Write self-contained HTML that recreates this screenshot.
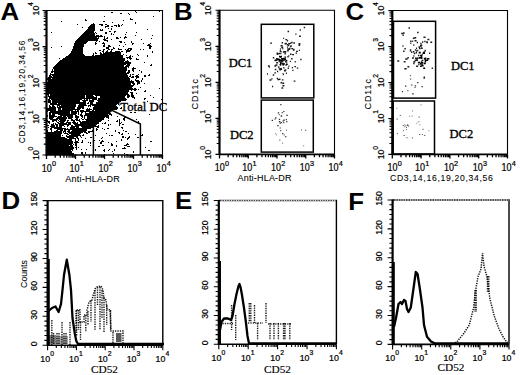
<!DOCTYPE html>
<html><head><meta charset="utf-8"><style>
html,body{margin:0;padding:0;background:#fff;width:520px;height:375px;overflow:hidden}
svg{display:block}
</style></head><body>
<svg width="520" height="375" viewBox="0 0 520 375">
<rect width="520" height="375" fill="#fff"/>
<text transform="translate(0.5,20) scale(1.1,1)" font-family='"Liberation Sans", sans-serif' font-weight="bold" font-size="23.5">A</text>
<text transform="translate(174,20) scale(1.1,1)" font-family='"Liberation Sans", sans-serif' font-weight="bold" font-size="23.5">B</text>
<text transform="translate(345.5,20) scale(1.1,1)" font-family='"Liberation Sans", sans-serif' font-weight="bold" font-size="23.5">C</text>
<text transform="translate(1.5,209) scale(1.1,1)" font-family='"Liberation Sans", sans-serif' font-weight="bold" font-size="23.5">D</text>
<text transform="translate(175,209) scale(1.1,1)" font-family='"Liberation Sans", sans-serif' font-weight="bold" font-size="23.5">E</text>
<text transform="translate(348.3,209.5) scale(1.1,1)" font-family='"Liberation Sans", sans-serif' font-weight="bold" font-size="23.5">F</text>
<path d="M135 11.5h1 M159 11.5h1 M111 12.5h2 M136 12.5h1 M120 13.5h2 M128 13.5h1 M129 14.5h1 M104 16.5h1 M153 16.5h1 M130 18.5h1 M85 19.5h1 M130 19.5h3 M85 20.5h2 M123 20.5h1 M61 21.5h1 M103 21.5h2 M112 22.5h1 M135 22.5h1 M93 23.5h1 M135 23.5h1 M77 24.5h1 M91 24.5h4 M99 24.5h4 M105 24.5h2 M118 24.5h1 M122 24.5h1 M90 25.5h5 M101 25.5h2 M107 25.5h2 M114 25.5h3 M118 25.5h2 M121 25.5h1 M89 26.5h6 M105 26.5h4 M111 26.5h2 M116 26.5h1 M118 26.5h2 M82 27.5h1 M88 27.5h7 M105 27.5h1 M88 28.5h7 M108 28.5h1 M111 28.5h1 M87 29.5h8 M100 29.5h1 M102 29.5h1 M111 29.5h1 M147 29.5h1 M86 30.5h9 M100 30.5h3 M85 31.5h9 M109 31.5h2 M114 31.5h2 M51 32.5h1 M84 32.5h10 M95 32.5h1 M105 32.5h2 M114 32.5h1 M126 32.5h1 M136 32.5h1 M83 33.5h12 M96 33.5h1 M105 33.5h2 M111 33.5h1 M82 34.5h13 M111 34.5h1 M113 34.5h1 M125 34.5h1 M81 35.5h14 M96 35.5h3 M100 35.5h2 M135 35.5h1 M152 35.5h1 M80 36.5h23 M104 36.5h1 M125 36.5h1 M79 37.5h18 M98 37.5h1 M104 37.5h1 M107 37.5h1 M116 37.5h2 M120 37.5h1 M124 37.5h3 M78 38.5h21 M104 38.5h1 M106 38.5h2 M116 38.5h3 M124 38.5h1 M151 38.5h1 M77 39.5h21 M103 39.5h3 M111 39.5h1 M141 39.5h1 M76 40.5h22 M104 40.5h4 M75 41.5h13 M96 41.5h1 M99 41.5h1 M107 41.5h1 M119 41.5h3 M131 41.5h1 M75 42.5h12 M95 42.5h1 M103 42.5h1 M120 42.5h2 M124 42.5h1 M131 42.5h1 M74 43.5h12 M95 43.5h2 M102 43.5h3 M132 43.5h2 M143 43.5h1 M150 43.5h1 M74 44.5h10 M95 44.5h1 M104 44.5h1 M125 44.5h1 M132 44.5h1 M148 44.5h2 M74 45.5h10 M103 45.5h2 M108 45.5h2 M119 45.5h1 M147 45.5h4 M61 46.5h1 M73 46.5h11 M103 46.5h2 M108 46.5h3 M123 46.5h1 M149 46.5h3 M51 47.5h1 M73 47.5h10 M106 47.5h3 M113 47.5h1 M149 47.5h2 M73 48.5h10 M106 48.5h3 M113 48.5h2 M118 48.5h1 M128 48.5h4 M149 48.5h2 M72 49.5h11 M103 49.5h2 M108 49.5h2 M111 49.5h2 M118 49.5h4 M125 49.5h1 M127 49.5h2 M130 49.5h2 M140 49.5h1 M143 49.5h1 M72 50.5h11 M99 50.5h2 M103 50.5h1 M107 50.5h1 M111 50.5h1 M126 50.5h5 M71 51.5h12 M102 51.5h2 M106 51.5h2 M110 51.5h2 M115 51.5h5 M121 51.5h2 M126 51.5h4 M152 51.5h1 M71 52.5h12 M95 52.5h1 M100 52.5h1 M103 52.5h1 M105 52.5h16 M126 52.5h1 M152 52.5h1 M70 53.5h13 M93 53.5h1 M95 53.5h2 M100 53.5h2 M103 53.5h18 M69 54.5h15 M93 54.5h1 M100 54.5h21 M123 54.5h1 M137 54.5h1 M68 55.5h17 M92 55.5h2 M95 55.5h28 M126 55.5h1 M130 55.5h1 M138 55.5h1 M147 55.5h1 M66 56.5h57 M129 56.5h2 M132 56.5h1 M147 56.5h1 M65 57.5h58 M126 57.5h5 M59 58.5h1 M63 58.5h62 M127 58.5h1 M129 58.5h3 M136 58.5h1 M62 59.5h63 M130 59.5h1 M136 59.5h3 M60 60.5h65 M127 60.5h1 M59 61.5h65 M125 61.5h4 M58 62.5h73 M144 62.5h1 M57 63.5h74 M56 64.5h70 M127 64.5h3 M151 64.5h1 M55 65.5h69 M126 65.5h4 M150 65.5h2 M54 66.5h70 M125 66.5h4 M53 67.5h74 M128 67.5h1 M133 67.5h1 M53 68.5h74 M132 68.5h4 M52 69.5h1 M54 69.5h73 M132 69.5h2 M52 70.5h1 M54 70.5h73 M128 70.5h2 M132 70.5h2 M139 70.5h1 M51 71.5h75 M128 71.5h2 M133 71.5h1 M141 71.5h1 M51 72.5h2 M54 72.5h72 M127 72.5h3 M141 72.5h1 M50 73.5h1 M54 73.5h75 M50 74.5h77 M130 74.5h1 M132 74.5h2 M138 74.5h1 M149 74.5h1 M49 75.5h2 M52 75.5h76 M130 75.5h1 M136 75.5h2 M144 75.5h2 M148 75.5h2 M49 76.5h3 M53 76.5h75 M129 76.5h2 M132 76.5h2 M135 76.5h4 M144 76.5h2 M48 77.5h81 M131 77.5h3 M136 77.5h3 M47 78.5h4 M52 78.5h78 M136 78.5h1 M142 78.5h1 M47 79.5h83 M135 79.5h1 M142 79.5h1 M48 80.5h82 M131 80.5h1 M135 80.5h4 M141 80.5h1 M48 81.5h86 M136 81.5h4 M141 81.5h1 M47 82.5h87 M137 82.5h3 M47 83.5h84 M132 83.5h3 M137 83.5h3 M144 83.5h1 M47 84.5h84 M133 84.5h2 M137 84.5h1 M47 85.5h87 M47 86.5h86 M47 87.5h85 M140 87.5h1 M47 88.5h86 M134 88.5h2 M159 88.5h1 M47 89.5h90 M138 89.5h1 M47 90.5h82 M131 90.5h1 M134 90.5h2 M145 90.5h1 M47 91.5h82 M144 91.5h2 M47 92.5h81 M130 92.5h3 M47 93.5h81 M131 93.5h2 M136 93.5h1 M47 94.5h2 M50 94.5h79 M131 94.5h2 M48 95.5h1 M50 95.5h35 M86 95.5h7 M95 95.5h31 M127 95.5h3 M131 95.5h3 M150 95.5h1 M48 96.5h37 M86 96.5h8 M96 96.5h1 M100 96.5h25 M127 96.5h3 M131 96.5h3 M49 97.5h36 M86 97.5h11 M100 97.5h25 M127 97.5h2 M132 97.5h3 M153 97.5h1 M49 98.5h48 M98 98.5h28 M134 98.5h1 M144 98.5h2 M48 99.5h2 M51 99.5h31 M84 99.5h1 M86 99.5h2 M89 99.5h1 M92 99.5h5 M98 99.5h29 M144 99.5h1 M161 99.5h1 M48 100.5h3 M52 100.5h28 M82 100.5h6 M89 100.5h5 M97 100.5h29 M48 101.5h3 M52 101.5h28 M83 101.5h3 M89 101.5h5 M98 101.5h23 M147 101.5h1 M48 102.5h3 M52 102.5h34 M88 102.5h1 M90 102.5h3 M96 102.5h25 M50 103.5h7 M58 103.5h28 M87 103.5h2 M90 103.5h3 M96 103.5h25 M136 103.5h1 M50 104.5h26 M79 104.5h7 M90 104.5h27 M118 104.5h3 M49 105.5h1 M52 105.5h2 M57 105.5h3 M61 105.5h15 M78 105.5h9 M88 105.5h3 M92 105.5h24 M119 105.5h2 M49 106.5h2 M52 106.5h3 M57 106.5h1 M59 106.5h17 M78 106.5h6 M88 106.5h1 M90 106.5h1 M94 106.5h23 M49 107.5h7 M57 107.5h18 M77 107.5h7 M93 107.5h25 M121 107.5h1 M47 108.5h9 M58 108.5h3 M62 108.5h13 M77 108.5h4 M82 108.5h2 M87 108.5h1 M89 108.5h1 M93 108.5h25 M120 108.5h2 M47 109.5h9 M58 109.5h3 M62 109.5h18 M86 109.5h6 M93 109.5h24 M47 110.5h9 M58 110.5h15 M75 110.5h1 M77 110.5h2 M80 110.5h4 M86 110.5h4 M92 110.5h2 M95 110.5h17 M134 110.5h3 M47 111.5h1 M50 111.5h20 M71 111.5h8 M80 111.5h31 M49 112.5h21 M71 112.5h6 M78 112.5h1 M81 112.5h2 M85 112.5h1 M89 112.5h21 M130 112.5h2 M134 112.5h2 M49 113.5h2 M52 113.5h18 M71 113.5h6 M78 113.5h1 M81 113.5h1 M85 113.5h26 M49 114.5h2 M52 114.5h3 M58 114.5h18 M78 114.5h1 M80 114.5h2 M85 114.5h23 M109 114.5h3 M149 114.5h1 M47 115.5h1 M49 115.5h6 M60 115.5h13 M75 115.5h2 M80 115.5h3 M84 115.5h25 M111 115.5h1 M47 116.5h1 M49 116.5h8 M58 116.5h4 M63 116.5h3 M67 116.5h6 M75 116.5h4 M81 116.5h2 M84 116.5h1 M87 116.5h22 M117 116.5h1 M49 117.5h5 M57 117.5h10 M68 117.5h5 M75 117.5h4 M82 117.5h1 M84 117.5h1 M87 117.5h18 M106 117.5h3 M124 117.5h2 M49 118.5h4 M56 118.5h11 M68 118.5h4 M76 118.5h2 M81 118.5h1 M84 118.5h1 M87 118.5h17 M108 118.5h1 M123 118.5h2 M50 119.5h8 M59 119.5h7 M71 119.5h2 M75 119.5h3 M79 119.5h1 M82 119.5h2 M85 119.5h19 M119 119.5h1 M123 119.5h2 M136 119.5h1 M47 120.5h1 M52 120.5h5 M58 120.5h1 M60 120.5h6 M67 120.5h2 M71 120.5h4 M76 120.5h4 M86 120.5h16 M108 120.5h1 M117 120.5h1 M119 120.5h1 M124 120.5h1 M47 121.5h3 M52 121.5h2 M56 121.5h1 M59 121.5h6 M67 121.5h1 M73 121.5h2 M79 121.5h2 M82 121.5h19 M116 121.5h2 M119 121.5h1 M138 121.5h1 M48 122.5h2 M57 122.5h2 M60 122.5h4 M66 122.5h5 M72 122.5h4 M77 122.5h1 M80 122.5h19 M105 122.5h1 M119 122.5h1 M121 122.5h1 M138 122.5h1 M49 123.5h1 M53 123.5h1 M55 123.5h1 M58 123.5h9 M68 123.5h3 M73 123.5h5 M80 123.5h19 M102 123.5h1 M104 123.5h2 M119 123.5h2 M51 124.5h3 M55 124.5h3 M59 124.5h12 M74 124.5h23 M108 124.5h1 M110 124.5h1 M119 124.5h1 M122 124.5h2 M47 125.5h2 M51 125.5h4 M56 125.5h2 M59 125.5h5 M67 125.5h2 M71 125.5h2 M75 125.5h21 M98 125.5h1 M108 125.5h1 M119 125.5h1 M50 126.5h5 M56 126.5h2 M59 126.5h3 M64 126.5h1 M67 126.5h1 M71 126.5h8 M81 126.5h18 M48 127.5h1 M51 127.5h11 M70 127.5h5 M76 127.5h3 M82 127.5h12 M97 127.5h2 M121 127.5h2 M50 128.5h2 M54 128.5h12 M67 128.5h1 M70 128.5h21 M96 128.5h1 M102 128.5h1 M107 128.5h2 M122 128.5h1 M50 129.5h2 M57 129.5h6 M64 129.5h23 M96 129.5h2 M104 129.5h1 M140 129.5h1 M47 130.5h1 M51 130.5h1 M56 130.5h2 M60 130.5h3 M64 130.5h2 M68 130.5h2 M72 130.5h15 M92 130.5h2 M96 130.5h1 M115 130.5h1 M123 130.5h1 M47 131.5h1 M51 131.5h1 M54 131.5h8 M63 131.5h3 M67 131.5h3 M71 131.5h15 M88 131.5h5 M115 131.5h1 M125 131.5h2 M47 132.5h15 M63 132.5h1 M65 132.5h1 M68 132.5h15 M84 132.5h3 M88 132.5h2 M118 132.5h2 M140 132.5h1 M47 133.5h15 M64 133.5h4 M69 133.5h12 M86 133.5h2 M106 133.5h1 M119 133.5h1 M122 133.5h1 M128 133.5h1 M47 134.5h14 M67 134.5h2 M71 134.5h9 M83 134.5h1 M121 134.5h2 M135 134.5h1 M142 134.5h1 M47 135.5h14 M62 135.5h1 M66 135.5h1 M69 135.5h12 M82 135.5h2 M95 135.5h1 M109 135.5h1 M111 135.5h2 M141 135.5h2 M47 136.5h14 M66 136.5h12 M80 136.5h1 M122 136.5h2 M129 136.5h1 M47 137.5h18 M67 137.5h7 M76 137.5h2 M81 137.5h1 M90 137.5h2 M102 137.5h1 M122 137.5h2 M125 137.5h1 M128 137.5h2 M137 137.5h2 M47 138.5h20 M69 138.5h7 M77 138.5h2 M85 138.5h1 M101 138.5h1 M127 138.5h2 M47 139.5h25 M75 139.5h1 M78 139.5h1 M121 139.5h1 M127 139.5h1 M47 140.5h25 M75 140.5h1 M78 140.5h1 M82 140.5h1 M94 140.5h1 M99 140.5h1 M102 140.5h1 M121 140.5h1 M47 141.5h26 M75 141.5h3 M82 141.5h1 M101 141.5h3 M116 141.5h1 M150 141.5h2 M47 142.5h26 M74 142.5h5 M81 142.5h2 M88 142.5h1 M90 142.5h1 M100 142.5h2 M108 142.5h1 M47 143.5h26 M75 143.5h2 M90 143.5h1 M100 143.5h2 M111 143.5h1 M127 143.5h1 M47 144.5h25 M73 144.5h1 M75 144.5h2 M111 144.5h2 M126 144.5h3 M47 145.5h22 M70 145.5h3 M75 145.5h2 M90 145.5h1 M102 145.5h2 M111 145.5h2 M116 145.5h1 M124 145.5h3 M47 146.5h26 M76 146.5h1 M98 146.5h2 M116 146.5h1 M127 146.5h3 M47 147.5h27 M75 147.5h2 M78 147.5h1 M124 147.5h1 M145 147.5h1 M47 148.5h27 M76 148.5h1 M122 148.5h4 M47 149.5h26 M76 149.5h1 M81 149.5h1 M86 149.5h1 M95 149.5h1 M104 149.5h1 M109 149.5h1 M114 149.5h1 M47 150.5h24 M72 150.5h1 M95 150.5h1 M103 150.5h2 M108 150.5h1 M114 150.5h1 M148 150.5h2 M47 151.5h25 M104 151.5h1 M112 151.5h1 M133 151.5h1 M47 152.5h25 M81 152.5h2 M85 152.5h1 M133 152.5h1 M47 153.5h27 M81 153.5h2 M85 153.5h1 M113 153.5h1 M124 153.5h1 M47 154.5h27 M75 154.5h1 M82 154.5h1 M104 154.5h1 M126 154.5h2" stroke="#000" stroke-width="1" shape-rendering="crispEdges"/>
<text transform="translate(120.3,110.8) scale(0.955,1)" font-family='"Liberation Serif", serif' stroke="#fff" stroke-width="2.2" stroke-linejoin="round" fill="#fff" font-size="13.4">Total DC</text>
<path d="M46.5 10.5H162.5V155" stroke="#000" stroke-width="1.1" fill="none"/>
<path d="M46.5 155H162.5" stroke="#000" stroke-width="1.6" fill="none"/>
<path d="M46.5 10V155.5" stroke="#000" stroke-width="2.2" fill="none"/>
<path d="M46.5 155v4 M55.23 155v2.8 M60.34 155v2.8 M63.96 155v2.8 M66.77 155v2.8 M69.07 155v2.8 M71.01 155v2.8 M72.69 155v2.8 M74.17 155v2.8 M75.5 155v4 M84.23 155v2.8 M89.34 155v2.8 M92.96 155v2.8 M95.77 155v2.8 M98.07 155v2.8 M100.01 155v2.8 M101.69 155v2.8 M103.17 155v2.8 M104.5 155v4 M113.23 155v2.8 M118.34 155v2.8 M121.96 155v2.8 M124.77 155v2.8 M127.07 155v2.8 M129.01 155v2.8 M130.69 155v2.8 M132.17 155v2.8 M133.5 155v4 M142.23 155v2.8 M147.34 155v2.8 M150.96 155v2.8 M153.77 155v2.8 M156.07 155v2.8 M158.01 155v2.8 M159.69 155v2.8 M161.17 155v2.8 M162.5 155v4" stroke="#000" stroke-width="1.3" fill="none"/>
<text transform="translate(46.7,171.8) scale(0.9,1)" font-family='"Liberation Sans", sans-serif' stroke="#000" stroke-width="0.22" font-size="10" text-anchor="middle">10</text>
<text x="51.9" y="166.2" font-family='"Liberation Sans", sans-serif' stroke="#000" stroke-width="0.22" font-size="7.3">0</text>
<text transform="translate(74.5,171.8) scale(0.9,1)" font-family='"Liberation Sans", sans-serif' stroke="#000" stroke-width="0.22" font-size="10" text-anchor="middle">10</text>
<text x="79.7" y="166.2" font-family='"Liberation Sans", sans-serif' stroke="#000" stroke-width="0.22" font-size="7.3">1</text>
<text transform="translate(103.5,171.8) scale(0.9,1)" font-family='"Liberation Sans", sans-serif' stroke="#000" stroke-width="0.22" font-size="10" text-anchor="middle">10</text>
<text x="108.7" y="166.2" font-family='"Liberation Sans", sans-serif' stroke="#000" stroke-width="0.22" font-size="7.3">2</text>
<text transform="translate(132.5,171.8) scale(0.9,1)" font-family='"Liberation Sans", sans-serif' stroke="#000" stroke-width="0.22" font-size="10" text-anchor="middle">10</text>
<text x="137.7" y="166.2" font-family='"Liberation Sans", sans-serif' stroke="#000" stroke-width="0.22" font-size="7.3">3</text>
<text transform="translate(161.5,171.8) scale(0.9,1)" font-family='"Liberation Sans", sans-serif' stroke="#000" stroke-width="0.22" font-size="10" text-anchor="middle">10</text>
<text x="166.7" y="166.2" font-family='"Liberation Sans", sans-serif' stroke="#000" stroke-width="0.22" font-size="7.3">4</text>
<path d="M46.5 155h-4 M46.5 144.13h-2.8 M46.5 137.76h-2.8 M46.5 133.25h-2.8 M46.5 129.75h-2.8 M46.5 126.89h-2.8 M46.5 124.47h-2.8 M46.5 122.38h-2.8 M46.5 120.53h-2.8 M46.5 118.88h-4 M46.5 108h-2.8 M46.5 101.64h-2.8 M46.5 97.13h-2.8 M46.5 93.62h-2.8 M46.5 90.76h-2.8 M46.5 88.35h-2.8 M46.5 86.25h-2.8 M46.5 84.4h-2.8 M46.5 82.75h-4 M46.5 71.88h-2.8 M46.5 65.51h-2.8 M46.5 61h-2.8 M46.5 57.5h-2.8 M46.5 54.64h-2.8 M46.5 52.22h-2.8 M46.5 50.13h-2.8 M46.5 48.28h-2.8 M46.5 46.62h-4 M46.5 35.75h-2.8 M46.5 29.39h-2.8 M46.5 24.88h-2.8 M46.5 21.37h-2.8 M46.5 18.51h-2.8 M46.5 16.1h-2.8 M46.5 14h-2.8 M46.5 12.15h-2.8 M46.5 10.5h-4" stroke="#000" stroke-width="1.1" fill="none"/>
<text transform="translate(38.5,155) rotate(-90)" font-family='"Liberation Sans", sans-serif' stroke="#000" stroke-width="0.22" font-size="8.8" text-anchor="middle">10</text>
<text transform="translate(32.9,150.4) rotate(-90)" font-family='"Liberation Sans", sans-serif' stroke="#000" stroke-width="0.22" font-size="6.8">0</text>
<text transform="translate(38.5,118.88) rotate(-90)" font-family='"Liberation Sans", sans-serif' stroke="#000" stroke-width="0.22" font-size="8.8" text-anchor="middle">10</text>
<text transform="translate(32.9,114.28) rotate(-90)" font-family='"Liberation Sans", sans-serif' stroke="#000" stroke-width="0.22" font-size="6.8">1</text>
<text transform="translate(38.5,82.75) rotate(-90)" font-family='"Liberation Sans", sans-serif' stroke="#000" stroke-width="0.22" font-size="8.8" text-anchor="middle">10</text>
<text transform="translate(32.9,78.15) rotate(-90)" font-family='"Liberation Sans", sans-serif' stroke="#000" stroke-width="0.22" font-size="6.8">2</text>
<text transform="translate(38.5,46.62) rotate(-90)" font-family='"Liberation Sans", sans-serif' stroke="#000" stroke-width="0.22" font-size="8.8" text-anchor="middle">10</text>
<text transform="translate(32.9,42.02) rotate(-90)" font-family='"Liberation Sans", sans-serif' stroke="#000" stroke-width="0.22" font-size="6.8">3</text>
<text transform="translate(38.5,10.5) rotate(-90)" font-family='"Liberation Sans", sans-serif' stroke="#000" stroke-width="0.22" font-size="8.8" text-anchor="middle">10</text>
<text transform="translate(32.9,5.9) rotate(-90)" font-family='"Liberation Sans", sans-serif' stroke="#000" stroke-width="0.22" font-size="6.8">4</text>
<path d="M93.4 155V126L112 110.3L140.4 124V155" stroke="#000" stroke-width="1.5" fill="none"/>
<text transform="translate(120.3,110.8) scale(0.955,1)" font-family='"Liberation Serif", serif' stroke="#000" stroke-width="0.35" font-size="13.4">Total DC</text>
<text x="65.3" y="181.7" font-family='"Liberation Sans", sans-serif' stroke="#000" stroke-width="0.08" font-size="9" letter-spacing="0.25">Anti-HLA-DR</text>
<text transform="translate(24.6,91.6) rotate(-90)" font-family='"Liberation Sans", sans-serif' stroke="#000" stroke-width="0.08" font-size="8.4" letter-spacing="0.8" text-anchor="middle">CD3,14,16,19,20,34,56</text>
<path d="M219.5 10.3H334.5V154.4" stroke="#000" stroke-width="1.1" fill="none"/>
<path d="M219.5 154.4H334.5" stroke="#000" stroke-width="1.6" fill="none"/>
<path d="M219.5 9.8V154.9" stroke="#000" stroke-width="2.2" fill="none"/>
<path d="M219.5 154.4v4 M228.15 154.4v2.8 M233.22 154.4v2.8 M236.81 154.4v2.8 M239.6 154.4v2.8 M241.87 154.4v2.8 M243.8 154.4v2.8 M245.46 154.4v2.8 M246.93 154.4v2.8 M248.25 154.4v4 M256.9 154.4v2.8 M261.97 154.4v2.8 M265.56 154.4v2.8 M268.35 154.4v2.8 M270.62 154.4v2.8 M272.55 154.4v2.8 M274.21 154.4v2.8 M275.68 154.4v2.8 M277 154.4v4 M285.65 154.4v2.8 M290.72 154.4v2.8 M294.31 154.4v2.8 M297.1 154.4v2.8 M299.37 154.4v2.8 M301.3 154.4v2.8 M302.96 154.4v2.8 M304.43 154.4v2.8 M305.75 154.4v4 M314.4 154.4v2.8 M319.47 154.4v2.8 M323.06 154.4v2.8 M325.85 154.4v2.8 M328.12 154.4v2.8 M330.05 154.4v2.8 M331.71 154.4v2.8 M333.18 154.4v2.8 M334.5 154.4v4" stroke="#000" stroke-width="1.3" fill="none"/>
<text transform="translate(219.7,171.3) scale(0.9,1)" font-family='"Liberation Sans", sans-serif' stroke="#000" stroke-width="0.22" font-size="10" text-anchor="middle">10</text>
<text x="224.9" y="165.9" font-family='"Liberation Sans", sans-serif' stroke="#000" stroke-width="0.22" font-size="7.3">0</text>
<text transform="translate(247.25,171.3) scale(0.9,1)" font-family='"Liberation Sans", sans-serif' stroke="#000" stroke-width="0.22" font-size="10" text-anchor="middle">10</text>
<text x="252.45" y="165.9" font-family='"Liberation Sans", sans-serif' stroke="#000" stroke-width="0.22" font-size="7.3">1</text>
<text transform="translate(276,171.3) scale(0.9,1)" font-family='"Liberation Sans", sans-serif' stroke="#000" stroke-width="0.22" font-size="10" text-anchor="middle">10</text>
<text x="281.2" y="165.9" font-family='"Liberation Sans", sans-serif' stroke="#000" stroke-width="0.22" font-size="7.3">2</text>
<text transform="translate(304.75,171.3) scale(0.9,1)" font-family='"Liberation Sans", sans-serif' stroke="#000" stroke-width="0.22" font-size="10" text-anchor="middle">10</text>
<text x="309.95" y="165.9" font-family='"Liberation Sans", sans-serif' stroke="#000" stroke-width="0.22" font-size="7.3">3</text>
<text transform="translate(333.5,171.3) scale(0.9,1)" font-family='"Liberation Sans", sans-serif' stroke="#000" stroke-width="0.22" font-size="10" text-anchor="middle">10</text>
<text x="338.7" y="165.9" font-family='"Liberation Sans", sans-serif' stroke="#000" stroke-width="0.22" font-size="7.3">4</text>
<path d="M219.5 154.4h-4 M219.5 143.56h-2.8 M219.5 137.21h-2.8 M219.5 132.71h-2.8 M219.5 129.22h-2.8 M219.5 126.37h-2.8 M219.5 123.96h-2.8 M219.5 121.87h-2.8 M219.5 120.02h-2.8 M219.5 118.38h-4 M219.5 107.53h-2.8 M219.5 101.19h-2.8 M219.5 96.69h-2.8 M219.5 93.19h-2.8 M219.5 90.34h-2.8 M219.5 87.93h-2.8 M219.5 85.84h-2.8 M219.5 84h-2.8 M219.5 82.35h-4 M219.5 71.51h-2.8 M219.5 65.16h-2.8 M219.5 60.66h-2.8 M219.5 57.17h-2.8 M219.5 54.32h-2.8 M219.5 51.91h-2.8 M219.5 49.82h-2.8 M219.5 47.97h-2.8 M219.5 46.33h-4 M219.5 35.48h-2.8 M219.5 29.14h-2.8 M219.5 24.64h-2.8 M219.5 21.14h-2.8 M219.5 18.29h-2.8 M219.5 15.88h-2.8 M219.5 13.79h-2.8 M219.5 11.95h-2.8 M219.5 10.3h-4" stroke="#000" stroke-width="1.1" fill="none"/>
<text transform="translate(210.6,154.4) rotate(-90)" font-family='"Liberation Sans", sans-serif' stroke="#000" stroke-width="0.22" font-size="8.8" text-anchor="middle">10</text>
<text transform="translate(205,149.8) rotate(-90)" font-family='"Liberation Sans", sans-serif' stroke="#000" stroke-width="0.22" font-size="6.8">0</text>
<text transform="translate(210.6,118.38) rotate(-90)" font-family='"Liberation Sans", sans-serif' stroke="#000" stroke-width="0.22" font-size="8.8" text-anchor="middle">10</text>
<text transform="translate(205,113.78) rotate(-90)" font-family='"Liberation Sans", sans-serif' stroke="#000" stroke-width="0.22" font-size="6.8">1</text>
<text transform="translate(210.6,82.35) rotate(-90)" font-family='"Liberation Sans", sans-serif' stroke="#000" stroke-width="0.22" font-size="8.8" text-anchor="middle">10</text>
<text transform="translate(205,77.75) rotate(-90)" font-family='"Liberation Sans", sans-serif' stroke="#000" stroke-width="0.22" font-size="6.8">2</text>
<text transform="translate(210.6,46.33) rotate(-90)" font-family='"Liberation Sans", sans-serif' stroke="#000" stroke-width="0.22" font-size="8.8" text-anchor="middle">10</text>
<text transform="translate(205,41.73) rotate(-90)" font-family='"Liberation Sans", sans-serif' stroke="#000" stroke-width="0.22" font-size="6.8">3</text>
<text transform="translate(210.6,10.3) rotate(-90)" font-family='"Liberation Sans", sans-serif' stroke="#000" stroke-width="0.22" font-size="8.8" text-anchor="middle">10</text>
<text transform="translate(205,5.7) rotate(-90)" font-family='"Liberation Sans", sans-serif' stroke="#000" stroke-width="0.22" font-size="6.8">4</text>
<rect x="261.3" y="24.3" width="52.5" height="73.6" stroke="#000" stroke-width="1.5" fill="none"/>
<rect x="261.3" y="100.1" width="52" height="52" stroke="#000" stroke-width="1.5" fill="none"/>
<path d="M279.46 64.6h1.62 M287.62 68.18h1.34 M288.32 66.25h1.02 M280.98 58.69h1.07 M268.84 66.94h1.1 M277.36 79.65h1.91 M281.3 47.54h1.94 M292.23 70.33h1.26 M283.59 63.98h1.28 M288.92 48.34h1.55 M284.52 43.81h1.52 M285.19 59.87h1.18 M286.85 40.72h1.29 M281.52 45.91h1.27 M295.29 34.16h1.22 M280.55 45.79h1.84 M288.12 43.71h1.94 M284.59 69.94h1.72 M282.57 73.6h1.02 M287.53 31.48h1.54 M291.32 48.6h1.66 M281.62 42.81h1.43 M303.71 27.43h1.44 M284.66 51.75h1.67 M290.47 46.04h1.36 M284.45 53.79h1.43 M282.97 64.48h1.04 M287.42 48.78h1.22 M266.95 73.97h1.06 M274.37 60.66h1.85 M299.7 29.95h1.25 M276.25 62.83h1.85 M288.25 55.83h1.15 M280.28 68.75h1.46 M282.38 48.9h0.98 M276.15 62.61h1.54 M295.54 53.16h1.49 M283.12 38.38h1.03 M298.56 43.73h1.84 M291.36 42.43h1.37 M285.88 73.23h1.04 M286.17 62.88h1.14 M281.31 61.04h0.98 M283.45 63.61h1.34 M294.38 66.67h1.58 M283.2 67.8h1.32 M279.7 62.41h1.81 M291.12 58.72h1.45 M285.04 61.7h1.32 M272.03 86.49h1.14 M296.77 68.09h1.5 M282.81 74.61h1.01 M270.18 43.14h1.83 M286.7 44.7h1.34 M280.54 82.72h1.5 M290.12 43.32h1.2 M299.09 36.31h1.78 M287.89 45.47h1.49 M281.97 59.72h1.01 M278.69 68.84h1.66 M292.11 54.64h1.9 M300.25 59.55h1.34 M280.7 68.55h1.17 M278.59 79.31h1.86 M293.37 42.99h1.62 M287.12 50.89h1.63 M298.46 45.31h1.72 M279.7 56.99h1.75 M269.47 79.93h1.93 M275.5 65.06h1.91 M286.93 47.16h1.1 M281.42 87.98h1.77 M282.27 83.28h1.94 M285.4 43.47h1.52 M283.98 59.24h1.93 M285.36 39.62h1.89 M267.91 65.94h1.79 M280.82 69.21h1.27 M276.75 78.36h1.23 M279.67 60.09h1.87 M274.77 69.55h1.55 M292.71 49.48h1.88 M276.55 54.05h1.49 M289.79 61.4h1.16 M294.68 61.7h1.15 M272.77 57.72h1.53 M274.35 72.91h1.52 M287.32 49.84h1.53 M279.35 69.88h1.74 M276.53 53.15h1.72 M292.93 50.03h1.58 M276.93 53.66h1.66 M274.67 60.19h1.45 M296.08 51.33h1.84 M290.03 54.22h1.53 M298.85 50.33h1.11 M284.4 70.68h1.05 M281.87 63.26h1.64 M281.84 79.91h1.63 M282.43 85.75h1.93 M274.32 65.94h1.95 M288.8 49.42h1.4 M278.99 53.56h1.17 M271.44 78.74h1 M279.89 49h1 M272.71 74.94h1.48 M293.64 81.15h1.75 M287.31 56.7h1.24 M291.79 67.58h1.25 M283.95 70.76h1.87 M290.08 46.51h1.13" stroke="#1a1a1a" stroke-opacity="1" stroke-width="1.4" fill="none"/>
<path d="M284.41 57.15h1.67 M281.87 60.83h1.65 M279.96 60.79h1.9 M277.42 53.95h1.06 M281.69 58.69h1.83 M278.38 61.17h1.52 M283.12 58.42h1.11 M278.82 59.44h1.09 M281.51 61.23h1.18 M280.03 63.55h1.72 M280.12 65.13h1.15 M280.67 60.71h1.23 M285.85 60.7h1.52 M282.26 64.74h1.9 M285.35 65.15h1.4 M275.31 60.27h1.37 M276.43 59.71h1.94 M277.88 67.1h1.67 M278.99 56.54h1.32 M282.49 60.8h1.05 M280.87 56.55h1.14 M285.96 64.37h1.83 M279.83 56.78h1.22 M280.11 64.81h1.13 M278.79 61.17h1.92 M284.72 59.03h1.22 M283.52 59.17h1.33 M283.94 60.03h1.45 M278.99 59.95h1.47 M283.35 60.11h1.07 M280.29 60.77h1 M280.27 63.09h1.55 M276.08 58.63h1.62 M279.69 50.96h1.36 M277.01 71.55h1.13 M280.3 53.62h1.02 M284.23 51.84h1.59 M280.44 51.81h1.12 M277.48 59.21h1.8 M282.89 52.07h1.55" stroke="#000" stroke-opacity="1" stroke-width="1.4" fill="none"/>
<path d="M286.33 115.33h1.42 M281.14 122.5h0.95 M279.64 123.17h1.54 M275.1 117.97h1.37 M278.8 114.69h0.84 M283.21 111.48h1.26 M274.56 119.07h0.9 M280.72 116.44h0.9 M280.29 130.65h1.01 M280.22 104.67h1.25 M277.2 125.61h1.41 M281.66 112.73h1.38 M283.25 122.59h1.05 M280.84 115.89h1.32 M282.59 121.17h1.07 M277.75 112.87h1.41 M279.62 128h1.23 M278.79 121.63h1.59 M284.9 136.75h1.63 M285.96 121.73h1.53 M285.82 119.7h1.07 M283.71 135.02h1.02 M278.83 119.38h1.28 M283.3 120.06h1.53 M271.62 120.31h1.43 M282.12 133.72h1.25" stroke="#333" stroke-opacity="1" stroke-width="1.2" fill="none"/>
<path d="M286.01 130.18h1.04 M275.31 133.61h0.8 M279.18 140.14h1.29 M305 130.26h1.29 M282.13 143.09h0.98 M301.01 129.86h0.95 M276.34 134.91h0.73 M303.27 145.84h0.9" stroke="#555" stroke-opacity="1" stroke-width="1" fill="none"/>
<text transform="translate(228.7,67.1) scale(1,1.08)" font-family='"Liberation Serif", serif' stroke="#000" stroke-width="0.35" font-size="12.5">DC1</text>
<text transform="translate(230,139) scale(1,1.08)" font-family='"Liberation Serif", serif' stroke="#000" stroke-width="0.35" font-size="12.5">DC2</text>
<text x="237.5" y="181" font-family='"Liberation Sans", sans-serif' stroke="#000" stroke-width="0.08" font-size="9" letter-spacing="0.2">Anti-HLA-DR</text>
<text transform="translate(198.2,93.8) rotate(-90)" font-family='"Liberation Sans", sans-serif' stroke="#000" stroke-width="0.08" font-size="9" letter-spacing="0.9" text-anchor="middle">CD11c</text>
<path d="M392.3 10.5H507.5V154.4" stroke="#000" stroke-width="1.1" fill="none"/>
<path d="M392.3 154.4H507.5" stroke="#000" stroke-width="1.6" fill="none"/>
<path d="M392.3 10V154.9" stroke="#000" stroke-width="2.2" fill="none"/>
<path d="M392.3 154.4v4 M400.97 154.4v2.8 M406.04 154.4v2.8 M409.64 154.4v2.8 M412.43 154.4v2.8 M414.71 154.4v2.8 M416.64 154.4v2.8 M418.31 154.4v2.8 M419.78 154.4v2.8 M421.1 154.4v4 M429.77 154.4v2.8 M434.84 154.4v2.8 M438.44 154.4v2.8 M441.23 154.4v2.8 M443.51 154.4v2.8 M445.44 154.4v2.8 M447.11 154.4v2.8 M448.58 154.4v2.8 M449.9 154.4v4 M458.57 154.4v2.8 M463.64 154.4v2.8 M467.24 154.4v2.8 M470.03 154.4v2.8 M472.31 154.4v2.8 M474.24 154.4v2.8 M475.91 154.4v2.8 M477.38 154.4v2.8 M478.7 154.4v4 M487.37 154.4v2.8 M492.44 154.4v2.8 M496.04 154.4v2.8 M498.83 154.4v2.8 M501.11 154.4v2.8 M503.04 154.4v2.8 M504.71 154.4v2.8 M506.18 154.4v2.8 M507.5 154.4v4" stroke="#000" stroke-width="1.3" fill="none"/>
<text transform="translate(392.5,171.3) scale(0.9,1)" font-family='"Liberation Sans", sans-serif' stroke="#000" stroke-width="0.22" font-size="10" text-anchor="middle">10</text>
<text x="397.7" y="165.9" font-family='"Liberation Sans", sans-serif' stroke="#000" stroke-width="0.22" font-size="7.3">0</text>
<text transform="translate(420.1,171.3) scale(0.9,1)" font-family='"Liberation Sans", sans-serif' stroke="#000" stroke-width="0.22" font-size="10" text-anchor="middle">10</text>
<text x="425.3" y="165.9" font-family='"Liberation Sans", sans-serif' stroke="#000" stroke-width="0.22" font-size="7.3">1</text>
<text transform="translate(448.9,171.3) scale(0.9,1)" font-family='"Liberation Sans", sans-serif' stroke="#000" stroke-width="0.22" font-size="10" text-anchor="middle">10</text>
<text x="454.1" y="165.9" font-family='"Liberation Sans", sans-serif' stroke="#000" stroke-width="0.22" font-size="7.3">2</text>
<text transform="translate(477.7,171.3) scale(0.9,1)" font-family='"Liberation Sans", sans-serif' stroke="#000" stroke-width="0.22" font-size="10" text-anchor="middle">10</text>
<text x="482.9" y="165.9" font-family='"Liberation Sans", sans-serif' stroke="#000" stroke-width="0.22" font-size="7.3">3</text>
<text transform="translate(506.5,171.3) scale(0.9,1)" font-family='"Liberation Sans", sans-serif' stroke="#000" stroke-width="0.22" font-size="10" text-anchor="middle">10</text>
<text x="511.7" y="165.9" font-family='"Liberation Sans", sans-serif' stroke="#000" stroke-width="0.22" font-size="7.3">4</text>
<path d="M392.3 154.4h-4 M392.3 143.57h-2.8 M392.3 137.24h-2.8 M392.3 132.74h-2.8 M392.3 129.25h-2.8 M392.3 126.41h-2.8 M392.3 124h-2.8 M392.3 121.91h-2.8 M392.3 120.07h-2.8 M392.3 118.43h-4 M392.3 107.6h-2.8 M392.3 101.26h-2.8 M392.3 96.77h-2.8 M392.3 93.28h-2.8 M392.3 90.43h-2.8 M392.3 88.02h-2.8 M392.3 85.94h-2.8 M392.3 84.1h-2.8 M392.3 82.45h-4 M392.3 71.62h-2.8 M392.3 65.29h-2.8 M392.3 60.79h-2.8 M392.3 57.3h-2.8 M392.3 54.46h-2.8 M392.3 52.05h-2.8 M392.3 49.96h-2.8 M392.3 48.12h-2.8 M392.3 46.47h-4 M392.3 35.65h-2.8 M392.3 29.31h-2.8 M392.3 24.82h-2.8 M392.3 21.33h-2.8 M392.3 18.48h-2.8 M392.3 16.07h-2.8 M392.3 13.99h-2.8 M392.3 12.15h-2.8 M392.3 10.5h-4" stroke="#000" stroke-width="1.1" fill="none"/>
<text transform="translate(383.5,154.4) rotate(-90)" font-family='"Liberation Sans", sans-serif' stroke="#000" stroke-width="0.22" font-size="8.8" text-anchor="middle">10</text>
<text transform="translate(377.9,149.8) rotate(-90)" font-family='"Liberation Sans", sans-serif' stroke="#000" stroke-width="0.22" font-size="6.8">0</text>
<text transform="translate(383.5,118.43) rotate(-90)" font-family='"Liberation Sans", sans-serif' stroke="#000" stroke-width="0.22" font-size="8.8" text-anchor="middle">10</text>
<text transform="translate(377.9,113.83) rotate(-90)" font-family='"Liberation Sans", sans-serif' stroke="#000" stroke-width="0.22" font-size="6.8">1</text>
<text transform="translate(383.5,82.45) rotate(-90)" font-family='"Liberation Sans", sans-serif' stroke="#000" stroke-width="0.22" font-size="8.8" text-anchor="middle">10</text>
<text transform="translate(377.9,77.85) rotate(-90)" font-family='"Liberation Sans", sans-serif' stroke="#000" stroke-width="0.22" font-size="6.8">2</text>
<text transform="translate(383.5,46.47) rotate(-90)" font-family='"Liberation Sans", sans-serif' stroke="#000" stroke-width="0.22" font-size="8.8" text-anchor="middle">10</text>
<text transform="translate(377.9,41.87) rotate(-90)" font-family='"Liberation Sans", sans-serif' stroke="#000" stroke-width="0.22" font-size="6.8">3</text>
<text transform="translate(383.5,10.5) rotate(-90)" font-family='"Liberation Sans", sans-serif' stroke="#000" stroke-width="0.22" font-size="8.8" text-anchor="middle">10</text>
<text transform="translate(377.9,5.9) rotate(-90)" font-family='"Liberation Sans", sans-serif' stroke="#000" stroke-width="0.22" font-size="6.8">4</text>
<rect x="393.5" y="21.3" width="42.1" height="76.8" stroke="#000" stroke-width="1.5" fill="none"/>
<rect x="393.2" y="101" width="41.3" height="53" stroke="#000" stroke-width="1.5" fill="none"/>
<path d="M420.21 46.18h1.33 M409.8 50.03h1.44 M430.29 42.22h1.9 M401.24 33.46h2.04 M402.38 45.9h1.1 M412.84 38.19h1.84 M410.27 43.32h1.1 M418.47 47.09h1.55 M412.05 58.03h1.83 M420.98 48.13h1.74 M413.14 63.59h1.46 M417.91 55.41h1.27 M422.03 42.07h1.28 M411.04 52.27h1.25 M421.67 54.79h1.15 M416.27 58.4h1.65 M423.87 37.14h1.48 M407.37 57.71h1.45 M413.83 53.48h1.34 M418.93 48.45h1.58 M402.52 35.22h1.28 M415.03 58.28h1.47 M397.29 60.93h1.94 M416 48.24h1.08 M408.48 27.9h1.55 M414.86 49.91h1.46 M427.42 39.59h1.95 M420.78 47.97h1.16 M421.57 60.43h1.77 M426.25 42.52h1.73 M414.61 37.87h1.63 M428.94 53.35h1.29 M424.28 41.39h1.37 M419.81 55.58h1.72 M413.26 45.06h1.12 M404.38 48.83h1.46 M418.25 64.46h1.06 M413.34 61.81h2.06 M403.05 33.11h1.55 M416.4 58.15h2.06 M412.18 41.19h1.07 M403.09 51.37h1.49 M416.09 66.28h2.02 M415.59 52.82h1.4 M405.21 59h1.26 M417.08 32.45h1.58 M423.64 77.24h1.38 M416.74 42.58h1.28 M414.52 40.83h2.05 M409.89 50.7h1.28 M405.6 59.09h2.05 M420.7 58.22h1.27 M419.25 48.58h1.1 M422.8 53.29h1.99 M423.43 37.16h2.1 M421.06 45.28h1.24 M426.42 41.68h1.08 M410.1 41.23h1.44 M413.2 56.05h1.05 M414.62 60.15h2.05 M431.64 68.35h1.27 M407.42 66.85h1.91 M412.84 51.66h1.55 M404.32 68.87h1.25 M405.6 68.7h1.08 M403.74 61.87h1.86 M417.13 50.53h1.12 M419.97 45.4h1.83 M420.23 43.49h1.34" stroke="#1a1a1a" stroke-opacity="1" stroke-width="1.5" fill="none"/>
<path d="M425.01 58.18h1.41 M420.46 55.73h1.43 M426.03 60.2h2.15 M416.21 51.07h1.15 M421.34 65.65h2.19 M423.84 58.59h1.4 M417.83 62.49h2.16 M423.21 68.22h1.95 M423.28 52.28h1.8 M419.76 63.87h1.53 M421.24 58.01h1.34 M421.04 56.23h1.19 M424.72 61.34h1.48 M427.17 58.72h2.23 M420.88 62.09h1.23 M416.28 60.08h1.62 M421.31 65.17h1.81 M418.71 52.62h2.07 M420.22 57.82h2.06 M419.95 66.22h1.54 M420.85 56.68h1.4 M421.05 62.88h2.11 M418.65 57.9h1.56 M424.57 59.72h1.38 M422.57 53.21h2.23 M423.72 63.4h2.04 M424.58 50.66h1.17 M420.59 62.43h1.33" stroke="#000" stroke-opacity="1" stroke-width="1.6" fill="none"/>
<path d="M423.43 78.21h1.62 M401.85 91.54h1.22 M412.13 93.85h1.63 M421.48 86.64h1.36 M414.55 87.52h0.96 M414.75 85.88h1.34 M409.87 75.6h0.85 M407.38 90.66h1 M410.94 84.99h1.51 M410.24 79.14h0.93 M405 86.18h1.38 M417.02 82.59h1.42" stroke="#333" stroke-opacity="1" stroke-width="1.2" fill="none"/>
<path d="M403.11 130.7h0.92 M418.28 121.74h1.1 M403.53 135.55h1.3 M419.51 124.74h0.84 M409.07 116.31h0.7 M418.56 117.09h1.27 M404.22 126.88h0.71 M396.44 119.08h1.34 M421.83 134.63h0.96 M404.39 124.8h0.9 M419 134.53h1.26 M416.49 123.22h0.79 M406.71 125.47h1.35 M396.43 108.36h0.81 M411.58 116.02h0.98 M420.7 104.9h0.83 M412.01 137.87h1.06 M406.19 129.45h0.87 M422.43 129.27h1.23 M428.54 130.89h0.78 M399.75 115.38h1.14 M406.39 137.73h1.11 M396.9 133.58h1.01 M407.99 126.07h1.13 M402.69 125.63h1.23 M412.07 110.86h0.83 M405.31 126.04h0.79 M406.02 127.41h1.01 M407.12 124.76h1.15 M424.14 135.44h1.24" stroke="#555" stroke-opacity="1" stroke-width="1" fill="none"/>
<text transform="translate(451,70.2) scale(1,1.08)" font-family='"Liberation Serif", serif' stroke="#000" stroke-width="0.35" font-size="12.5">DC1</text>
<text transform="translate(449.6,137.6) scale(1,1.08)" font-family='"Liberation Serif", serif' stroke="#000" stroke-width="0.35" font-size="12.5">DC2</text>
<text x="390" y="181" font-family='"Liberation Sans", sans-serif' stroke="#000" stroke-width="0.08" font-size="8.6" letter-spacing="0.7">CD3,14,16,19,20,34,56</text>
<text transform="translate(370.6,93.8) rotate(-90)" font-family='"Liberation Sans", sans-serif' stroke="#000" stroke-width="0.08" font-size="9" letter-spacing="0.9" text-anchor="middle">CD11c</text>
<path d="M47.6 200.6H162.8V345.2" stroke="#000" stroke-width="1.4" fill="none"/>
<path d="M47.6 345.2H162.8" stroke="#000" stroke-width="1.6" fill="none"/>
<path d="M47.6 200.1V345.7" stroke="#000" stroke-width="2.2" fill="none"/>
<path d="M47.6 345.2v5 M56.27 345.2v2.8 M61.34 345.2v2.8 M64.94 345.2v2.8 M67.73 345.2v2.8 M70.01 345.2v2.8 M71.94 345.2v2.8 M73.61 345.2v2.8 M75.08 345.2v2.8 M76.4 345.2v5 M85.07 345.2v2.8 M90.14 345.2v2.8 M93.74 345.2v2.8 M96.53 345.2v2.8 M98.81 345.2v2.8 M100.74 345.2v2.8 M102.41 345.2v2.8 M103.88 345.2v2.8 M105.2 345.2v5 M113.87 345.2v2.8 M118.94 345.2v2.8 M122.54 345.2v2.8 M125.33 345.2v2.8 M127.61 345.2v2.8 M129.54 345.2v2.8 M131.21 345.2v2.8 M132.68 345.2v2.8 M134 345.2v5 M142.67 345.2v2.8 M147.74 345.2v2.8 M151.34 345.2v2.8 M154.13 345.2v2.8 M156.41 345.2v2.8 M158.34 345.2v2.8 M160.01 345.2v2.8 M161.48 345.2v2.8 M162.8 345.2v5" stroke="#000" stroke-width="1.1" fill="none"/>
<text transform="translate(45.2,362.2) scale(1.0,1)" font-family='"Liberation Sans", sans-serif' stroke="#000" stroke-width="0.22" font-size="8.8" text-anchor="middle">10</text>
<text x="50.2" y="355.5" font-family='"Liberation Sans", sans-serif' stroke="#000" stroke-width="0.22" font-size="6.8">0</text>
<text transform="translate(74,362.2) scale(1.0,1)" font-family='"Liberation Sans", sans-serif' stroke="#000" stroke-width="0.22" font-size="8.8" text-anchor="middle">10</text>
<text x="79" y="355.5" font-family='"Liberation Sans", sans-serif' stroke="#000" stroke-width="0.22" font-size="6.8">1</text>
<text transform="translate(102.8,362.2) scale(1.0,1)" font-family='"Liberation Sans", sans-serif' stroke="#000" stroke-width="0.22" font-size="8.8" text-anchor="middle">10</text>
<text x="107.8" y="355.5" font-family='"Liberation Sans", sans-serif' stroke="#000" stroke-width="0.22" font-size="6.8">2</text>
<text transform="translate(131.6,362.2) scale(1.0,1)" font-family='"Liberation Sans", sans-serif' stroke="#000" stroke-width="0.22" font-size="8.8" text-anchor="middle">10</text>
<text x="136.6" y="355.5" font-family='"Liberation Sans", sans-serif' stroke="#000" stroke-width="0.22" font-size="6.8">3</text>
<text transform="translate(160.4,362.2) scale(1.0,1)" font-family='"Liberation Sans", sans-serif' stroke="#000" stroke-width="0.22" font-size="8.8" text-anchor="middle">10</text>
<text x="165.4" y="355.5" font-family='"Liberation Sans", sans-serif' stroke="#000" stroke-width="0.22" font-size="6.8">4</text>
<path d="M47.6 345.2h-5 M47.6 340.38h-3.2 M47.6 335.56h-3.2 M47.6 330.74h-3.2 M47.6 325.92h-3.2 M47.6 321.1h-3.2 M47.6 316.28h-5 M47.6 311.46h-3.2 M47.6 306.64h-3.2 M47.6 301.82h-3.2 M47.6 297h-3.2 M47.6 292.18h-3.2 M47.6 287.36h-5 M47.6 282.54h-3.2 M47.6 277.72h-3.2 M47.6 272.9h-3.2 M47.6 268.08h-3.2 M47.6 263.26h-3.2 M47.6 258.44h-5 M47.6 253.62h-3.2 M47.6 248.8h-3.2 M47.6 243.98h-3.2 M47.6 239.16h-3.2 M47.6 234.34h-3.2 M47.6 229.52h-5 M47.6 224.7h-3.2 M47.6 219.88h-3.2 M47.6 215.06h-3.2 M47.6 210.24h-3.2 M47.6 205.42h-3.2 M47.6 200.6h-5" stroke="#000" stroke-width="1.1" fill="none"/>
<text transform="translate(37.2,343.7) rotate(-90)" font-family='"Liberation Sans", sans-serif' stroke="#000" stroke-width="0.22" font-size="8.8" text-anchor="middle">0</text>
<text transform="translate(37.2,314.78) rotate(-90)" font-family='"Liberation Sans", sans-serif' stroke="#000" stroke-width="0.22" font-size="8.8" text-anchor="middle">30</text>
<text transform="translate(37.2,285.86) rotate(-90)" font-family='"Liberation Sans", sans-serif' stroke="#000" stroke-width="0.22" font-size="8.8" text-anchor="middle">60</text>
<text transform="translate(37.2,256.94) rotate(-90)" font-family='"Liberation Sans", sans-serif' stroke="#000" stroke-width="0.22" font-size="8.8" text-anchor="middle">90</text>
<text transform="translate(37.2,228.02) rotate(-90)" font-family='"Liberation Sans", sans-serif' stroke="#000" stroke-width="0.22" font-size="8.8" text-anchor="middle">120</text>
<text transform="translate(37.2,199.1) rotate(-90)" font-family='"Liberation Sans", sans-serif' stroke="#000" stroke-width="0.22" font-size="8.8" text-anchor="middle">150</text>
<path d="M48.8 259V345.2" stroke="#000" stroke-width="2" fill="none"/>
<path d="M76 331 L76 310 L80 310 L80 322 L84 322 L84 315 L87 315 L87 310 L89 302 L92 300 L93 296 L95 289 L97 287 L101 286 L103 290 L104 299 L106 300 L107 309 L110 310 L111 331 L123 331 L123 344" stroke="#000" stroke-opacity="0.9" stroke-width="1.5" stroke-dasharray="1.3 1.1" fill="none"/>
<path d="M51.8 320V345 M53.5 333V345 M57 333V345 M59 333V345 M62 322V345 M64 333V345 M66 333V345 M70 322V345 M76.6 310V336 M78.5 310V330 M80.5 322V340 M85.8 315V332 M88 311V325 M91 300V322 M95 290V330 M97.5 287V305 M100 287V330 M102 290V318 M104 297V332 M106.7 305V325 M110.6 310V330 M113 332V344" stroke="#000" stroke-opacity="0.9" stroke-width="1.4" stroke-dasharray="1.4 1" fill="none"/>
<rect x="48.5" y="335" width="7.5" height="9" fill="#000" fill-opacity="0.5"/>
<rect x="56" y="336" width="12" height="8" fill="#000" fill-opacity="0.35"/>
<rect x="116" y="333" width="5.5" height="9" fill="#000" fill-opacity="0.65"/>
<path d="M48.6 311 L52 308 L55.5 306.5 L58.6 312 L61 304 L62.5 290 L64 275 L66.8 259.7 L69.4 275 L71 290 L72.5 318 L74.8 333.5 L76.3 341 L78 344 L164 344" stroke="#000" stroke-width="2.3" stroke-linejoin="round" fill="none"/>
<text x="91" y="372.5" font-family='"Liberation Serif", serif' stroke="#000" stroke-width="0.15" font-size="11.3">CD52</text>
<text transform="translate(26.8,274) rotate(-90)" font-family='"Liberation Sans", sans-serif' stroke="#000" stroke-width="0.08" font-size="8.8" text-anchor="middle">Counts</text>
<path d="M218.8 200.5H336.4V344.2" stroke="#000" stroke-width="1.4" fill="none"/>
<path d="M218.8 344.2H336.4" stroke="#000" stroke-width="1.6" fill="none"/>
<path d="M218.8 200V344.7" stroke="#000" stroke-width="2.2" fill="none"/>
<path d="M218.8 344.2v5 M227.65 344.2v2.8 M232.83 344.2v2.8 M236.5 344.2v2.8 M239.35 344.2v2.8 M241.68 344.2v2.8 M243.65 344.2v2.8 M245.35 344.2v2.8 M246.85 344.2v2.8 M248.2 344.2v5 M257.05 344.2v2.8 M262.23 344.2v2.8 M265.9 344.2v2.8 M268.75 344.2v2.8 M271.08 344.2v2.8 M273.05 344.2v2.8 M274.75 344.2v2.8 M276.25 344.2v2.8 M277.6 344.2v5 M286.45 344.2v2.8 M291.63 344.2v2.8 M295.3 344.2v2.8 M298.15 344.2v2.8 M300.48 344.2v2.8 M302.45 344.2v2.8 M304.15 344.2v2.8 M305.65 344.2v2.8 M307 344.2v5 M315.85 344.2v2.8 M321.03 344.2v2.8 M324.7 344.2v2.8 M327.55 344.2v2.8 M329.88 344.2v2.8 M331.85 344.2v2.8 M333.55 344.2v2.8 M335.05 344.2v2.8 M336.4 344.2v5" stroke="#000" stroke-width="1.1" fill="none"/>
<text transform="translate(216.4,361.2) scale(1.0,1)" font-family='"Liberation Sans", sans-serif' stroke="#000" stroke-width="0.22" font-size="8.8" text-anchor="middle">10</text>
<text x="221.4" y="354.5" font-family='"Liberation Sans", sans-serif' stroke="#000" stroke-width="0.22" font-size="6.8">0</text>
<text transform="translate(245.8,361.2) scale(1.0,1)" font-family='"Liberation Sans", sans-serif' stroke="#000" stroke-width="0.22" font-size="8.8" text-anchor="middle">10</text>
<text x="250.8" y="354.5" font-family='"Liberation Sans", sans-serif' stroke="#000" stroke-width="0.22" font-size="6.8">1</text>
<text transform="translate(275.2,361.2) scale(1.0,1)" font-family='"Liberation Sans", sans-serif' stroke="#000" stroke-width="0.22" font-size="8.8" text-anchor="middle">10</text>
<text x="280.2" y="354.5" font-family='"Liberation Sans", sans-serif' stroke="#000" stroke-width="0.22" font-size="6.8">2</text>
<text transform="translate(304.6,361.2) scale(1.0,1)" font-family='"Liberation Sans", sans-serif' stroke="#000" stroke-width="0.22" font-size="8.8" text-anchor="middle">10</text>
<text x="309.6" y="354.5" font-family='"Liberation Sans", sans-serif' stroke="#000" stroke-width="0.22" font-size="6.8">3</text>
<text transform="translate(334,361.2) scale(1.0,1)" font-family='"Liberation Sans", sans-serif' stroke="#000" stroke-width="0.22" font-size="8.8" text-anchor="middle">10</text>
<text x="339" y="354.5" font-family='"Liberation Sans", sans-serif' stroke="#000" stroke-width="0.22" font-size="6.8">4</text>
<path d="M218.8 344.2h-5 M218.8 339.41h-3.2 M218.8 334.62h-3.2 M218.8 329.83h-3.2 M218.8 325.04h-3.2 M218.8 320.25h-3.2 M218.8 315.46h-5 M218.8 310.67h-3.2 M218.8 305.88h-3.2 M218.8 301.09h-3.2 M218.8 296.3h-3.2 M218.8 291.51h-3.2 M218.8 286.72h-5 M218.8 281.93h-3.2 M218.8 277.14h-3.2 M218.8 272.35h-3.2 M218.8 267.56h-3.2 M218.8 262.77h-3.2 M218.8 257.98h-5 M218.8 253.19h-3.2 M218.8 248.4h-3.2 M218.8 243.61h-3.2 M218.8 238.82h-3.2 M218.8 234.03h-3.2 M218.8 229.24h-5 M218.8 224.45h-3.2 M218.8 219.66h-3.2 M218.8 214.87h-3.2 M218.8 210.08h-3.2 M218.8 205.29h-3.2 M218.8 200.5h-5" stroke="#000" stroke-width="1.1" fill="none"/>
<text transform="translate(208.4,342.7) rotate(-90)" font-family='"Liberation Sans", sans-serif' stroke="#000" stroke-width="0.22" font-size="8.8" text-anchor="middle">0</text>
<text transform="translate(208.4,313.96) rotate(-90)" font-family='"Liberation Sans", sans-serif' stroke="#000" stroke-width="0.22" font-size="8.8" text-anchor="middle">30</text>
<text transform="translate(208.4,285.22) rotate(-90)" font-family='"Liberation Sans", sans-serif' stroke="#000" stroke-width="0.22" font-size="8.8" text-anchor="middle">60</text>
<text transform="translate(208.4,256.48) rotate(-90)" font-family='"Liberation Sans", sans-serif' stroke="#000" stroke-width="0.22" font-size="8.8" text-anchor="middle">90</text>
<text transform="translate(208.4,227.74) rotate(-90)" font-family='"Liberation Sans", sans-serif' stroke="#000" stroke-width="0.22" font-size="8.8" text-anchor="middle">120</text>
<text transform="translate(208.4,199) rotate(-90)" font-family='"Liberation Sans", sans-serif' stroke="#000" stroke-width="0.22" font-size="8.8" text-anchor="middle">150</text>
<path d="M220 261V344.2" stroke="#000" stroke-width="2" fill="none"/>
<path d="M220 323.5 L233 323.5" stroke="#000" stroke-opacity="0.9" stroke-width="1.5" stroke-dasharray="1.3 1.1" fill="none"/>
<path d="M231.6 305V330 M235.7 315V340 M249.3 303V322 M250.8 303V322 M254.5 305V323 M257.6 323V340 M266 303V323 M270 323V340 M274 323V340 M278.4 323V340 M283.6 323V340 M285 323V340 M289.8 323V340" stroke="#000" stroke-opacity="0.9" stroke-width="1.4" stroke-dasharray="1.4 1" fill="none"/>
<path d="M220 330 L221.5 322 L224 318.5 L228 318.5 L231 320 L232.5 316 L234.5 304 L236.5 294 L238.5 286 L239.5 284 L240.5 287 L242 295 L244 308 L246 323 L247.5 336 L249 343.5 L336 343.5" stroke="#000" stroke-width="2.3" stroke-linejoin="round" fill="none"/>
<text x="264" y="372.5" font-family='"Liberation Serif", serif' stroke="#000" stroke-width="0.15" font-size="11.3">CD52</text>
<path d="M248 323 L263 323" stroke="#000" stroke-opacity="0.8" stroke-width="1.3" stroke-dasharray="1.3 1.1" fill="none"/>
<path d="M268 324 L291 324" stroke="#000" stroke-opacity="0.8" stroke-width="1.3" stroke-dasharray="1.3 1.1" fill="none"/>
<path d="M220 200.5H336" stroke="#fff" stroke-width="1.6" fill="none"/>
<path d="M220 200.5H336" stroke="#444" stroke-width="1.2" stroke-dasharray="1.6 0.8" fill="none"/>
<path d="M392.6 200H509V344.4" stroke="#000" stroke-width="1.4" fill="none"/>
<path d="M392.6 344.4H509" stroke="#000" stroke-width="1.6" fill="none"/>
<path d="M392.6 199.5V344.9" stroke="#000" stroke-width="2.2" fill="none"/>
<path d="M392.6 344.4v5 M401.36 344.4v2.8 M406.48 344.4v2.8 M410.12 344.4v2.8 M412.94 344.4v2.8 M415.24 344.4v2.8 M417.19 344.4v2.8 M418.88 344.4v2.8 M420.37 344.4v2.8 M421.7 344.4v5 M430.46 344.4v2.8 M435.58 344.4v2.8 M439.22 344.4v2.8 M442.04 344.4v2.8 M444.34 344.4v2.8 M446.29 344.4v2.8 M447.98 344.4v2.8 M449.47 344.4v2.8 M450.8 344.4v5 M459.56 344.4v2.8 M464.68 344.4v2.8 M468.32 344.4v2.8 M471.14 344.4v2.8 M473.44 344.4v2.8 M475.39 344.4v2.8 M477.08 344.4v2.8 M478.57 344.4v2.8 M479.9 344.4v5 M488.66 344.4v2.8 M493.78 344.4v2.8 M497.42 344.4v2.8 M500.24 344.4v2.8 M502.54 344.4v2.8 M504.49 344.4v2.8 M506.18 344.4v2.8 M507.67 344.4v2.8 M509 344.4v5" stroke="#000" stroke-width="1.1" fill="none"/>
<text transform="translate(390.2,361.4) scale(1.0,1)" font-family='"Liberation Sans", sans-serif' stroke="#000" stroke-width="0.22" font-size="8.8" text-anchor="middle">10</text>
<text x="395.2" y="354.7" font-family='"Liberation Sans", sans-serif' stroke="#000" stroke-width="0.22" font-size="6.8">0</text>
<text transform="translate(419.3,361.4) scale(1.0,1)" font-family='"Liberation Sans", sans-serif' stroke="#000" stroke-width="0.22" font-size="8.8" text-anchor="middle">10</text>
<text x="424.3" y="354.7" font-family='"Liberation Sans", sans-serif' stroke="#000" stroke-width="0.22" font-size="6.8">1</text>
<text transform="translate(448.4,361.4) scale(1.0,1)" font-family='"Liberation Sans", sans-serif' stroke="#000" stroke-width="0.22" font-size="8.8" text-anchor="middle">10</text>
<text x="453.4" y="354.7" font-family='"Liberation Sans", sans-serif' stroke="#000" stroke-width="0.22" font-size="6.8">2</text>
<text transform="translate(477.5,361.4) scale(1.0,1)" font-family='"Liberation Sans", sans-serif' stroke="#000" stroke-width="0.22" font-size="8.8" text-anchor="middle">10</text>
<text x="482.5" y="354.7" font-family='"Liberation Sans", sans-serif' stroke="#000" stroke-width="0.22" font-size="6.8">3</text>
<text transform="translate(506.6,361.4) scale(1.0,1)" font-family='"Liberation Sans", sans-serif' stroke="#000" stroke-width="0.22" font-size="8.8" text-anchor="middle">10</text>
<text x="511.6" y="354.7" font-family='"Liberation Sans", sans-serif' stroke="#000" stroke-width="0.22" font-size="6.8">4</text>
<path d="M392.6 344.4h-5 M392.6 339.59h-3.2 M392.6 334.77h-3.2 M392.6 329.96h-3.2 M392.6 325.15h-3.2 M392.6 320.33h-3.2 M392.6 315.52h-5 M392.6 310.71h-3.2 M392.6 305.89h-3.2 M392.6 301.08h-3.2 M392.6 296.27h-3.2 M392.6 291.45h-3.2 M392.6 286.64h-5 M392.6 281.83h-3.2 M392.6 277.01h-3.2 M392.6 272.2h-3.2 M392.6 267.39h-3.2 M392.6 262.57h-3.2 M392.6 257.76h-5 M392.6 252.95h-3.2 M392.6 248.13h-3.2 M392.6 243.32h-3.2 M392.6 238.51h-3.2 M392.6 233.69h-3.2 M392.6 228.88h-5 M392.6 224.07h-3.2 M392.6 219.25h-3.2 M392.6 214.44h-3.2 M392.6 209.63h-3.2 M392.6 204.81h-3.2 M392.6 200h-5" stroke="#000" stroke-width="1.1" fill="none"/>
<text transform="translate(382.2,342.9) rotate(-90)" font-family='"Liberation Sans", sans-serif' stroke="#000" stroke-width="0.22" font-size="8.8" text-anchor="middle">0</text>
<text transform="translate(382.2,314.02) rotate(-90)" font-family='"Liberation Sans", sans-serif' stroke="#000" stroke-width="0.22" font-size="8.8" text-anchor="middle">30</text>
<text transform="translate(382.2,285.14) rotate(-90)" font-family='"Liberation Sans", sans-serif' stroke="#000" stroke-width="0.22" font-size="8.8" text-anchor="middle">60</text>
<text transform="translate(382.2,256.26) rotate(-90)" font-family='"Liberation Sans", sans-serif' stroke="#000" stroke-width="0.22" font-size="8.8" text-anchor="middle">90</text>
<text transform="translate(382.2,227.38) rotate(-90)" font-family='"Liberation Sans", sans-serif' stroke="#000" stroke-width="0.22" font-size="8.8" text-anchor="middle">120</text>
<text transform="translate(382.2,198.5) rotate(-90)" font-family='"Liberation Sans", sans-serif' stroke="#000" stroke-width="0.22" font-size="8.8" text-anchor="middle">150</text>
<path d="M393.8 262V344.4" stroke="#000" stroke-width="2" fill="none"/>
<path d="M455 343 L457.6 341 L463.5 333.8 L469.3 325 L473.7 307.4 L475.2 292.8 L478 276.7 L481 269 L482.5 253.2 L484 266.4 L487 276.7 L489.9 298.7 L494.3 316.2 L498.6 328 L503 336.8 L506 341 L508 343" stroke="#000" stroke-opacity="0.9" stroke-width="1.5" stroke-dasharray="1.3 1.1" fill="none"/>
<path d="M475 290V312 M476.2 290V312 M487.5 276V292 M488.8 276V292" stroke="#000" stroke-opacity="0.9" stroke-width="1.4" stroke-dasharray="1.4 1" fill="none"/>
<path d="M394 327 L396 318 L398.5 304 L400.5 302 L402 304 L404 300 L405.5 301 L407 309 L408.5 312 L410.8 307.5 L413.7 287 L415.8 272 L417.5 273.7 L419.6 287 L422.5 307.5 L424 325 L427 336.8 L431 341.5 L435 343.5 L508 343.5" stroke="#000" stroke-width="2.3" stroke-linejoin="round" fill="none"/>
<text x="437.5" y="371.2" font-family='"Liberation Serif", serif' stroke="#000" stroke-width="0.15" font-size="11.3">CD52</text>
<path d="M394 200H508.5" stroke="#fff" stroke-width="1.6" fill="none"/>
<path d="M394 200H508.5" stroke="#333" stroke-width="1.3" stroke-dasharray="1.6 0.8" fill="none"/>
</svg>
</body></html>
